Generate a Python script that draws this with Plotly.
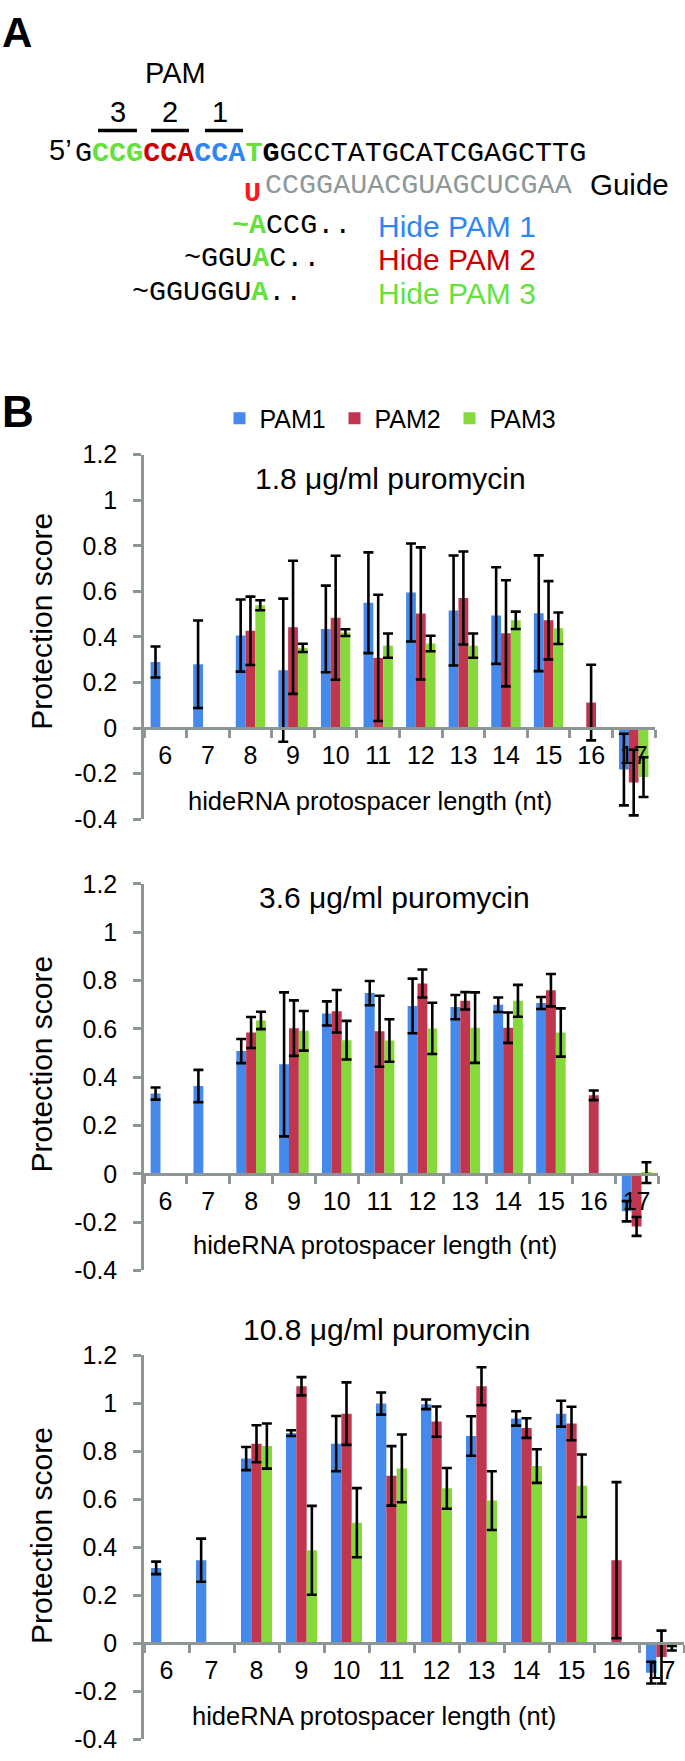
import plotly.graph_objects as go

W, H = 685, 1761

# ---------------- data ----------------
categories = ["6", "7", "8", "9", "10", "11", "12", "13", "14", "15", "16", "17"]
series_names = ["PAM1", "PAM2", "PAM3"]
panel_titles = ["1.8 μg/ml puromycin", "3.6 μg/ml puromycin", "10.8 μg/ml puromycin"]
ytick_vals = [-0.4, -0.2, 0, 0.2, 0.4, 0.6, 0.8, 1.0, 1.2]
ytick_text = ["-0.4", "-0.2", "0", "0.2", "0.4", "0.6", "0.8", "1", "1.2"]
x_title = "hideRNA protospacer length (nt)"
y_title = "Protection score"

# 1.8 ug/ml
p1_pam1 = [0.29, 0.28, 0.406, 0.254, 0.435, 0.55, 0.595, 0.516, 0.494, 0.504, None, -0.182]
p1_pam1_err = [0.068, 0.192, 0.158, 0.314, 0.19, 0.221, 0.215, 0.241, 0.212, 0.254, None, 0.157]
p1_pam2 = [None, None, 0.427, 0.442, 0.484, 0.308, 0.503, 0.571, 0.416, 0.473, 0.112, -0.239]
p1_pam2_err = [None, None, 0.15, 0.292, 0.272, 0.277, 0.29, 0.204, 0.233, 0.172, 0.166, 0.144]
p1_pam3 = [None, None, 0.539, 0.352, 0.419, 0.362, 0.371, 0.362, 0.473, 0.438, None, -0.215]
p1_pam3_err = [None, None, 0.022, 0.018, 0.015, 0.053, 0.034, 0.053, 0.038, 0.069, None, 0.087]

# 3.6 ug/ml
p2_pam1 = [0.332, 0.363, 0.508, 0.453, 0.664, 0.748, 0.695, 0.69, 0.70, 0.707, None, -0.155]
p2_pam1_err = [0.025, 0.067, 0.05, 0.298, 0.05, 0.05, 0.113, 0.05, 0.03, 0.025, None, 0.042]
p2_pam2 = [None, None, 0.585, 0.603, 0.673, 0.59, 0.788, 0.716, 0.605, 0.76, 0.325, -0.218]
p2_pam2_err = [None, None, 0.064, 0.115, 0.088, 0.147, 0.058, 0.036, 0.063, 0.067, 0.02, 0.039]
p2_pam3 = [None, None, 0.635, 0.592, 0.553, 0.552, 0.602, 0.605, 0.716, 0.585, None, 0.005]
p2_pam3_err = [None, None, 0.036, 0.082, 0.08, 0.088, 0.106, 0.146, 0.066, 0.1, None, 0.043]

# 10.8 ug/ml
p3_pam1 = [0.314, 0.346, 0.769, 0.875, 0.831, 0.998, 0.995, 0.863, 0.936, 0.956, None, -0.122]
p3_pam1_err = [0.026, 0.09, 0.048, 0.012, 0.115, 0.046, 0.02, 0.082, 0.03, 0.054, None, 0.045]
p3_pam2 = [None, None, 0.831, 1.07, 0.956, 0.697, 0.923, 1.07, 0.896, 0.915, 0.346, -0.057]
p3_pam2_err = [None, None, 0.077, 0.038, 0.13, 0.124, 0.063, 0.079, 0.041, 0.07, 0.325, 0.11]
p3_pam3 = [None, None, 0.821, 0.387, 0.502, 0.728, 0.645, 0.594, 0.738, 0.656, None, -0.02]
p3_pam3_err = [None, None, 0.094, 0.185, 0.144, 0.141, 0.085, 0.122, 0.07, 0.13, None, 0.01]

panels_values = [
    [(p1_pam1, p1_pam1_err), (p1_pam2, p1_pam2_err), (p1_pam3, p1_pam3_err)],
    [(p2_pam1, p2_pam1_err), (p2_pam2, p2_pam2_err), (p2_pam3, p2_pam3_err)],
    [(p3_pam1, p3_pam1_err), (p3_pam2, p3_pam2_err), (p3_pam3, p3_pam3_err)],
]

# ---------------- styles / geometry ----------------
bar_colors = ["#4589EA", "#C1364F", "#86D93B"]
axis_gray = "#8c9696"
SANS = "Arial, Liberation Sans, Helvetica, sans-serif"
MONO = "Courier New, Liberation Mono, monospace"
YMIN, YMAX = -0.4, 1.2

# pixel geometry of each panel: x0, x1, y of 1.2, y of -0.4
geo = [
    dict(x0=144, x1=655, ytop=447.7, ybot=818.3, title=(390, 472), ytitle=(41.5, 617), xtitle=(370, 800)),
    dict(x0=144, x1=658, ytop=884.0, ybot=1276.7, title=(394, 898), ytitle=(41.5, 1067), xtitle=(374.5, 1251)),
    dict(x0=144, x1=684, ytop=1362.7, ybot=1753.3, title=(386, 1337), ytitle=(41.5, 1546), xtitle=(374, 1730)),
]


def px(x):
    return x / W


def py(y):
    return 1 - y / H


fig = go.Figure()
annotations = []
shapes = []
layout_axes = {}

for i, (g, vals) in enumerate(zip(geo, panels_values)):
    sfx = "" if i == 0 else str(i + 1)
    for j, (name, (v, e)) in enumerate(zip(series_names, vals)):
        fig.add_trace(go.Bar(
            x=categories, y=v, name=name,
            marker=dict(color=bar_colors[j], line=dict(width=0)),
            error_y=dict(type="data", array=e, visible=True, color="black",
                         thickness=2.6, width=5),
            xaxis="x" + sfx, yaxis="y" + sfx,
            showlegend=(i == 0),
            legend=("legend" if j == 0 else "legend" + str(j + 1)),
        ))
    ydom = [py(g["ybot"]), py(g["ytop"])]
    zero_pos = ydom[0] + (0 - YMIN) / (YMAX - YMIN) * (ydom[1] - ydom[0])
    layout_axes["xaxis" + sfx] = dict(
        domain=[px(g["x0"]), px(g["x1"])], type="category",
        categoryorder="array", categoryarray=categories,
        range=[-0.5, len(categories) - 0.5],
        anchor="free", position=zero_pos,
        showline=True, linecolor=axis_gray, linewidth=2.5,
        ticks="outside", tickson="boundaries", ticklen=8, tickwidth=2.5, tickcolor=axis_gray,
        tickfont=dict(family=SANS, size=25, color="black"),
        ticklabelstandoff=4,
        showgrid=False, zeroline=False, fixedrange=True,
    )
    layout_axes["yaxis" + sfx] = dict(
        domain=ydom, range=[YMIN, YMAX], anchor="x" + sfx,
        tickvals=ytick_vals, ticktext=ytick_text,
        showline=True, linecolor=axis_gray, linewidth=2.5,
        ticks="outside", ticklen=8, tickwidth=2.5, tickcolor=axis_gray,
        tickfont=dict(family=SANS, size=25, color="black"),
        ticklabelstandoff=11,
        showgrid=False, zeroline=False, fixedrange=True,
    )
    annotations.append(dict(text=panel_titles[i], x=px(g["title"][0]), y=py(g["title"][1]),
                            xref="paper", yref="paper", xanchor="center", yanchor="middle",
                            showarrow=False, font=dict(family=SANS, size=30, color="black")))
    annotations.append(dict(text=y_title, x=px(g["ytitle"][0]), y=py(g["ytitle"][1]),
                            xref="paper", yref="paper", xanchor="center", yanchor="middle",
                            textangle=-90, showarrow=False,
                            font=dict(family=SANS, size=30, color="black")))
    annotations.append(dict(text=x_title, x=px(g["xtitle"][0]), y=py(g["xtitle"][1]),
                            xref="paper", yref="paper", xanchor="center", yanchor="middle",
                            showarrow=False, font=dict(family=SANS, size=25.5, color="black")))

# ---------------- panel A text ----------------
GREEN = "#62E23A"
RED = "#CC0000"
BLUE = "#2E86F2"
GRAY = "#8d9999"


def ann(text, x, y, size, family=SANS, color="black", xanchor="left", yanchor="middle", height=None):
    a = dict(text=text, x=px(x), y=py(y), xref="paper", yref="paper",
             xanchor=xanchor, yanchor=yanchor, showarrow=False,
             font=dict(family=family, size=size, color=color))
    if height is not None:
        a["height"] = height
    annotations.append(a)


ann("<b>A</b>", 0, 19, 42)
ann("<b>B</b>", 0, 404, 44)
ann("PAM", 175.5, 60, 29, xanchor="center")
for lab, cx in [("3", 117.5), ("2", 170), ("1", 220)]:
    ann(lab, cx, 100, 29, xanchor="center", height=28)
for xa, xb in [(98, 137), (151, 189), (205, 243)]:
    shapes.append(dict(type="line", xref="paper", yref="paper", x0=px(xa), x1=px(xb),
                       y0=py(118.5), y1=py(118.5), line=dict(color="black", width=3.5)))
ann("5’", 47, 138, 29, height=26)


def col(t, c):
    return f"<span style='color:{c}'>{t}</span>"


seq = ("G<b>" + col("CCG", GREEN) + col("CCA", RED) + col("CCA", BLUE) + col("T", GREEN)
       + "G</b>GCCTATGCATCGAGCTTG")
ann(seq, 73, 141.5, 28.4, family=MONO, height=24)
ann("<b>" + col("U", "#FF1A1A") + "</b>", 263, 182, 28.4, family=MONO, xanchor="right", height=24)
ann(col("CCGGAUACGUAGCUCGAA", GRAY), 263, 174, 28.4, family=MONO, height=24)
ann("Guide", 588, 173, 29.5, height=28)

ann("<b>" + col("~A", GREEN) + "</b>CCG..", 230, 214, 28.4, family=MONO, height=24)
ann("~GGU<b>" + col("A", GREEN) + "</b>C..", 181.5, 248, 28.4, family=MONO, height=24)
ann("~GGUGGU<b>" + col("A", GREEN) + "</b>..", 130.3, 282, 28.4, family=MONO, height=24)
ann("Hide PAM 1", 376, 215, 30, color=BLUE, height=28)
ann("Hide PAM 2", 376, 249, 30, color=RED, height=28)
ann("Hide PAM 3", 376, 283, 30, color=GREEN, height=28)

# ---------------- legends ----------------
leg_common = dict(orientation="h", xanchor="left", yanchor="middle", y=py(411),
                  font=dict(family=SANS, size=25, color="black"), bgcolor="rgba(0,0,0,0)",
                  itemwidth=30, tracegroupgap=0)
legend_symbol_centers = [244.5, 359.5, 474.5]

fig.update_layout(
    width=W, height=H,
    margin=dict(l=0, r=0, t=0, b=0),
    paper_bgcolor="white", plot_bgcolor="white",
    barmode="group", bargap=0.31, bargroupgap=0,
    annotations=annotations, shapes=shapes,
    legend=dict(x=px(legend_symbol_centers[0] - 25), **leg_common),
    legend2=dict(x=px(legend_symbol_centers[1] - 25), **leg_common),
    legend3=dict(x=px(legend_symbol_centers[2] - 25), **leg_common),
    **layout_axes,
)

fig.write_html("out.html", config={"displayModeBar": False},
               post_script="document.body.style.margin='0px';")
